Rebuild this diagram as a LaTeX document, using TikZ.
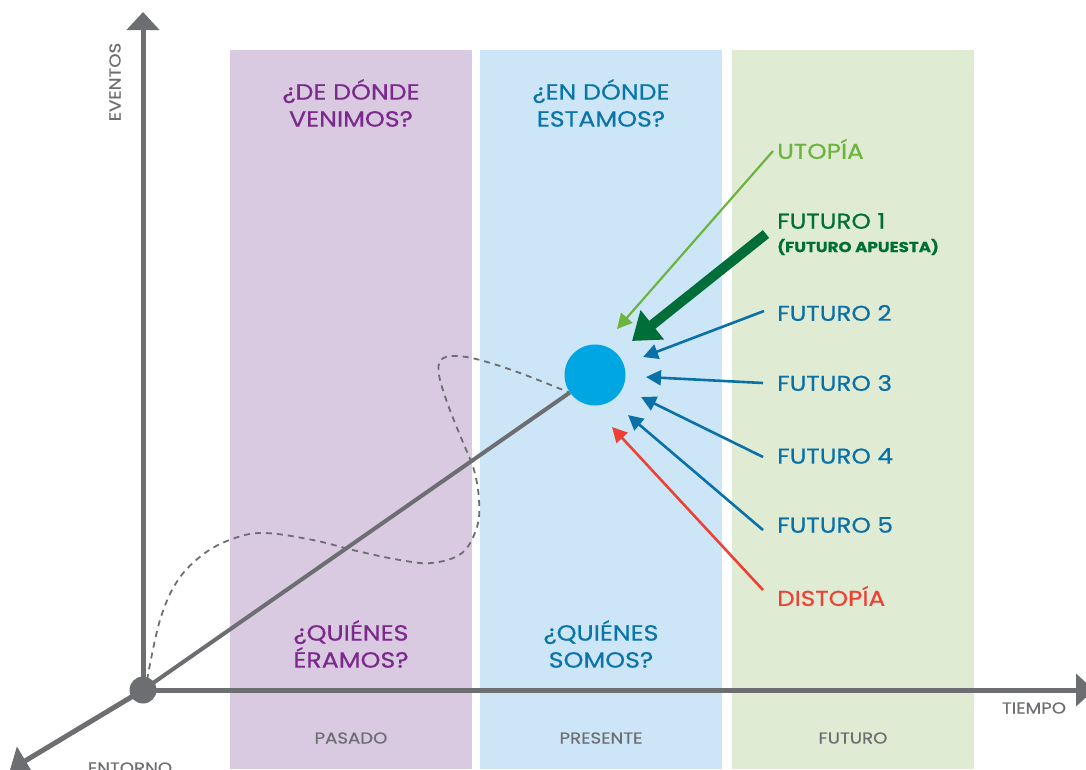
\documentclass[tikz,border=0pt]{standalone}
\usepackage{fontspec}
\setmainfont{Poppins}[FakeStretch=1.15, FakeBold=0.6]
\usetikzlibrary{arrows.meta}
\definecolor{axisgray}{HTML}{6D6E71}
\definecolor{bandpurple}{HTML}{D9C9E1}
\definecolor{bandblue}{HTML}{CCE6F7}
\definecolor{bandgreen}{HTML}{E0EBD3}
\definecolor{txtpurple}{HTML}{7B2A8B}
\definecolor{txtblue}{HTML}{0B74A9}
\definecolor{lightgreen}{HTML}{6DB43F}
\definecolor{darkgreen}{HTML}{006E38}
\definecolor{futblue}{HTML}{0A70A8}
\definecolor{distred}{HTML}{EE4136}
\definecolor{dotblue}{HTML}{00A6E2}
\tikzset{
  axisline/.style={draw=axisgray, line width=5pt, -{Triangle[length=18pt,width=32pt]}},
  heading/.style={align=center, inner sep=0pt, font=\fontsize{22}{27}\selectfont},
  axislabel/.style={text=axisgray, inner sep=0pt, font=\fontsize{15.8}{17}\selectfont},
  futlabel/.style={anchor=west, inner sep=0pt, font=\fontsize{21.5}{26}\selectfont},
  thinarrow/.style={line width=2.6pt, -{Triangle[length=15pt,width=15pt]}},
}
\begin{document}
\begin{tikzpicture}[x=1pt,y=-1pt]
\useasboundingbox (0,0) rectangle (1086,769);
% bands
\fill[bandpurple] (230,50) rectangle (472,769);
\fill[bandblue] (480,50) rectangle (722,769);
\fill[bandgreen] (732,50) rectangle (974,769);
% headings
\node[heading, text=txtpurple] (h1) at (351,103) {¿DE DÓNDE\\VENIMOS?};
\node[heading, text=txtblue] (h2) at (601,103) {¿EN DÓNDE\\ESTAMOS?};
\node[heading, text=txtpurple] (h3) at (351,644) {¿QUIÉNES\\ÉRAMOS?};
\node[heading, text=txtblue] (h4) at (601,644) {¿QUIÉNES\\SOMOS?};
% bottom labels
\node[axislabel] (pas) at (351,738) {PASADO};
\node[axislabel] (pre) at (601,738) {PRESENTE};
\node[axislabel] (fut) at (853,738) {FUTURO};
\node[axislabel] (tie) at (1034,708) {TIEMPO};
\node[axislabel] (ent) at (130,768) {ENTORNO};
\node[axislabel, rotate=90] (eve) at (115,82) {EVENTOS};
% axes
\coordinate (orig) at (143,690);
\coordinate (etop) at (143,12);
\coordinate (tright) at (1094,690);
\coordinate (eleft) at (10,770);
\node[circle, fill=dotblue, minimum size=61pt, inner sep=0pt] (now) at (595,375) {};
\draw[axisgray, dash pattern=on 6pt off 5pt, line width=1.8pt]
  plot[smooth, tension=0.6] coordinates {(147,680) (160,620) (178,580) (205,553) (235,538) (265,533) (313,540) (357,551) (400,560) (432,563) (462,553) (477,527) (479,500) (474,470) (462,440) (448,405) (439,375) (441,360) (455,356) (480,360) (520,373) (568,392)};
\draw[axisline] (orig) -- (etop);
\draw[axisline] (orig) -- (tright);
\draw[axisline] (orig) -- (eleft);
\draw[axisgray, line width=4pt] (orig) -- (now);
\node[circle, fill=axisgray, minimum size=27pt, inner sep=0pt] (o) at (orig) {};
% right labels
\node[futlabel, text=lightgreen] (ut) at (777,149) {UTOPÍA};
\node[futlabel, text=darkgreen] (f1) at (777,221) {FUTURO 1};
\node[anchor=west, inner sep=0pt, text=darkgreen, font=\bfseries\fontsize{14.5}{16}\selectfont] (f1b) at (777,247) {(FUTURO APUESTA)};
\node[futlabel, text=futblue] (f2) at (777,313) {FUTURO 2};
\node[futlabel, text=futblue] (f3) at (777,383) {FUTURO 3};
\node[futlabel, text=futblue] (f4) at (777,456) {FUTURO 4};
\node[futlabel, text=futblue] (f5) at (777,525) {FUTURO 5};
\node[futlabel, text=distred] (dis) at (777,596) {DISTOPÍA};
% arrow ends
\coordinate (sut) at (773,151);
\coordinate (tut) at (617,329);
\coordinate (sf1) at (766,234);
\coordinate (tf1) at (632,341);
\coordinate (sf2) at (764,311);
\coordinate (tf2) at (643,357);
\coordinate (sf3) at (763,383);
\coordinate (tf3) at (646,377);
\coordinate (sf4) at (763,457);
\coordinate (tf4) at (641,397);
\coordinate (sf5) at (763,530);
\coordinate (tf5) at (628,415);
\coordinate (sdis) at (763,590);
\coordinate (tdis) at (612,427);
\draw[lightgreen, line width=2.2pt, -{Triangle[length=15pt,width=15pt]}] (sut) -- (tut);
\draw[darkgreen, line width=10pt, -{Triangle[length=26pt,width=36pt]}] (sf1) -- (tf1);
\draw[futblue, thinarrow] (sf2) -- (tf2);
\draw[futblue, thinarrow] (sf3) -- (tf3);
\draw[futblue, thinarrow] (sf4) -- (tf4);
\draw[futblue, thinarrow] (sf5) -- (tf5);
\draw[distred, thinarrow] (sdis) -- (tdis);
\end{tikzpicture}
\end{document}
